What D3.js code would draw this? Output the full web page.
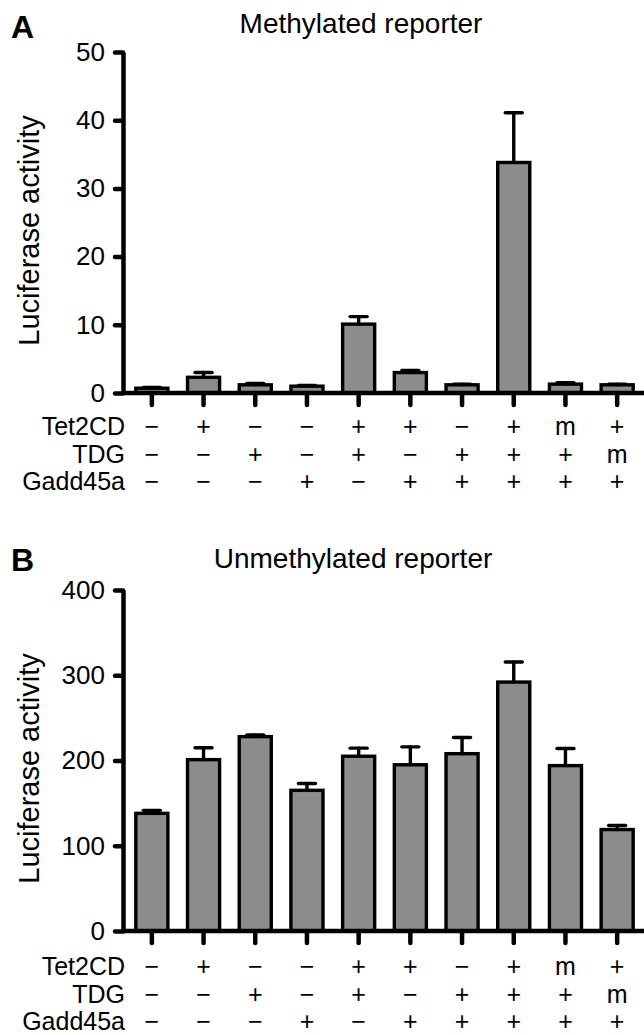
<!DOCTYPE html>
<html>
<head>
<meta charset="utf-8">
<script src="https://cdn.jsdelivr.net/npm/d3@7"></script>
<style>
  body { margin: 0; background: #fff; }
  svg { display: block; }
  text { font-family: "Liberation Sans", Arial, sans-serif; fill: #000; }
</style>
</head>
<body>
<svg id="chart"></svg>
<script>
// conditions (one per bar) and the +/- table under each panel
const conditions = ["c1", "c2", "c3", "c4", "c5", "c6", "c7", "c8", "c9", "c10"];
const rowLabels = ["Tet2CD", "TDG", "Gadd45a"];
const tet2cdRow  = ["−", "+", "−", "−", "+", "+", "−", "+", "m", "+"];
const tdgRow     = ["−", "−", "+", "−", "+", "−", "+", "+", "+", "m"];
const gadd45aRow = ["−", "−", "−", "+", "−", "+", "+", "+", "+", "+"];

// panel A: methylated reporter
const methylMean = [0.7, 2.3, 1.2, 1.0, 10.1, 3.0, 1.2, 33.8, 1.3, 1.2];
const methylErr  = [0.1, 0.7, 0.2, 0.1, 1.1, 0.3, 0.1, 7.3, 0.2, 0.1];
const methylTicks = [0, 10, 20, 30, 40, 50];

// panel B: unmethylated reporter
const unmethylMean = [138, 201, 228, 165, 205, 195, 208, 292, 194, 119];
const unmethylErr  = [3.5, 14, 2, 8, 9.5, 21, 19, 23.5, 20, 4.8];
const unmethylTicks = [0, 100, 200, 300, 400];

const width = 644, height = 1035;
const svg = d3.select("#chart").attr("width", width).attr("height", height);

const axisX = 123;   // x of the y axis line
const x = d3.scaleBand()
  .domain(conditions)
  .range([126, 643])
  .paddingInner(0.38)
  .paddingOuter(0.19);

function drawPanel(p) {
  const g = svg.append("g");
  const y = d3.scaleLinear().domain(p.domain).range([p.bottom, p.top]);

  // bars
  g.selectAll("rect.bar")
    .data(p.mean)
    .enter()
    .append("rect")
      .attr("class", "bar")
      .attr("x", (d, i) => x(conditions[i]))
      .attr("width", x.bandwidth())
      .attr("y", d => y(d))
      .attr("height", d => y(0) - y(d))
      .attr("fill", "#8c8c8c")
      .attr("stroke", "#000")
      .attr("stroke-width", 3.4);

  // error bars (upper only)
  const err = g.selectAll("g.err")
    .data(p.mean.map((m, i) => ({ m: m, e: p.err[i], c: conditions[i] })))
    .enter()
    .append("g")
      .attr("class", "err")
      .attr("stroke", "#000")
      .attr("stroke-width", 3.4)
      .attr("stroke-linecap", "round");
  err.append("line")
    .attr("x1", d => x(d.c) + x.bandwidth() / 2)
    .attr("x2", d => x(d.c) + x.bandwidth() / 2)
    .attr("y1", d => y(d.m))
    .attr("y2", d => y(d.m + d.e));
  err.append("line")
    .attr("x1", d => x(d.c) + x.bandwidth() / 2 - 8.5)
    .attr("x2", d => x(d.c) + x.bandwidth() / 2 + 8.5)
    .attr("y1", d => y(d.m + d.e))
    .attr("y2", d => y(d.m + d.e));

  // y axis
  const yAxis = g.append("g")
    .attr("transform", `translate(${axisX},0)`)
    .call(d3.axisLeft(y).tickValues(p.ticks).tickSize(8).tickSizeOuter(0).tickPadding(10));
  yAxis.select(".domain").attr("stroke-width", 4.5);
  yAxis.selectAll(".tick line").attr("stroke-width", 4.5).attr("stroke-linecap", "round");
  yAxis.selectAll(".tick text")
    .style("font-size", "26px")
    .style("font-family", "'Liberation Sans', Arial, sans-serif");

  // x axis: baseline line plus ticks under each bar
  g.append("line")
    .attr("x1", axisX).attr("x2", width)
    .attr("y1", y(0)).attr("y2", y(0))
    .attr("stroke", "#000").attr("stroke-width", 4.5);
  const xAxis = g.append("g")
    .attr("transform", `translate(0,${y(0)})`)
    .call(d3.axisBottom(x).tickSize(12).tickSizeOuter(0).tickFormat(""));
  xAxis.select(".domain").remove();
  xAxis.selectAll(".tick line").attr("stroke-width", 4.5).attr("stroke-linecap", "round");

  // axis label
  g.append("text")
    .attr("transform", `translate(39,${(p.top + p.bottom) / 2 + 8}) rotate(-90)`)
    .attr("text-anchor", "middle")
    .style("font-size", "29px")
    .text("Luciferase activity");

  // title and panel letter
  g.append("text")
    .attr("x", p.titleX).attr("y", p.titleY)
    .attr("text-anchor", "middle")
    .style("font-size", "28px")
    .text(p.title);
  g.append("text")
    .attr("x", 11).attr("y", p.letterY)
    .style("font-size", "32px")
    .style("font-weight", "bold")
    .text(p.letter);

  // condition table
  const rows = [tet2cdRow, tdgRow, gadd45aRow];
  rows.forEach((row, r) => {
    const ty = p.bottom + p.tableOffset + r * 27.5;
    g.append("text")
      .attr("x", 125).attr("y", ty)
      .attr("text-anchor", "end")
      .style("font-size", "25px")
      .text(rowLabels[r]);
    g.selectAll(null)
      .data(row)
      .enter()
      .append("text")
        .attr("x", (d, i) => x(conditions[i]) + x.bandwidth() / 2)
        .attr("y", ty)
        .attr("text-anchor", "middle")
        .style("font-size", "25px")
        .text(d => d);
  });
}

drawPanel({
  domain: [0, 50], ticks: methylTicks, top: 52, bottom: 393,
  mean: methylMean, err: methylErr,
  title: "Methylated reporter", titleX: 361, titleY: 33,
  letter: "A", letterY: 38, tableOffset: 42
});

drawPanel({
  domain: [0, 400], ticks: unmethylTicks, top: 590, bottom: 931,
  mean: unmethylMean, err: unmethylErr,
  title: "Unmethylated reporter", titleX: 353, titleY: 568,
  letter: "B", letterY: 571, tableOffset: 44
});
</script>
</body>
</html>
